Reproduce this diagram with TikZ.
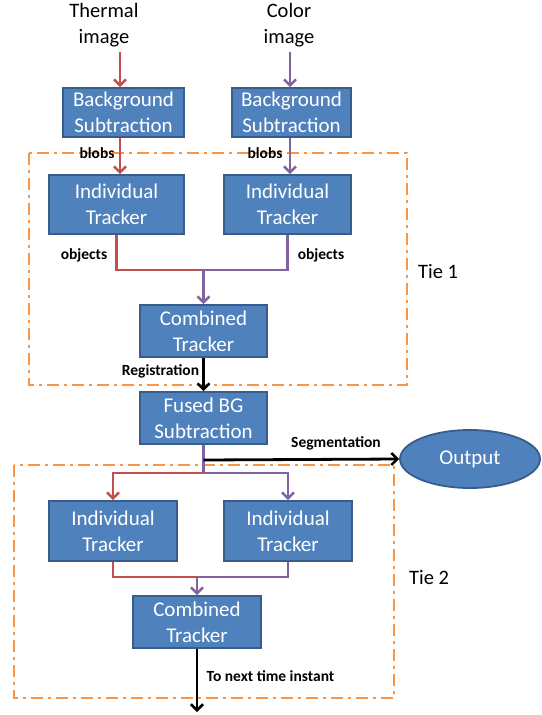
\documentclass[tikz,border=0pt]{standalone}
\usepackage{fontspec}
\setmainfont{Carlito}
\usetikzlibrary{arrows.meta,shapes.geometric,calc}
\definecolor{boxfill}{HTML}{4F81BD}
\definecolor{boxline}{HTML}{385D8A}
\definecolor{cred}{HTML}{C0504D}
\definecolor{cpurple}{HTML}{8064A2}
\definecolor{corange}{HTML}{F79646}
\tikzset{
  blk/.style={draw=boxline, line width=1.8pt, fill=boxfill, text=white, align=center,
    inner sep=0pt, font=\fontsize{21}{26}\selectfont},
  outnode/.style={ellipse, draw=boxline, line width=1.8pt, fill=boxfill, text=white,
    inner sep=0pt, minimum width=140pt, minimum height=58pt, font=\fontsize{21}{26}\selectfont},
  intext/.style={align=center, inner sep=0pt, font=\fontsize{20.5}{26}\selectfont},
  lbl/.style={inner sep=0pt, font=\bfseries\fontsize{15.5}{18}\selectfont},
  tielbl/.style={inner sep=0pt, font=\fontsize{20.5}{24}\selectfont},
  tip/.style={-{Straight Barb[length=6pt,width=12pt,line width=2.5pt]}},
  rline/.style={draw=cred, line width=2.5pt},
  pline/.style={draw=cpurple, line width=2.5pt},
  kline/.style={draw=black, line width=2.8pt},
  tiebox/.style={draw=corange, line width=2.5pt, dash pattern=on 12pt off 5pt on 3pt off 5pt},
}
\begin{document}
\begin{tikzpicture}[x=1pt,y=-1pt]
\useasboundingbox (0,0) rectangle (541,715);
% tie boxes
\draw[tiebox] (29,153) rectangle (407,385);
\draw[tiebox] (14,465) rectangle (394,698);
% inputs
\node[intext] (thermal) at (104,25) {Thermal\\image};
\node[intext] (color) at (289,25) {Color\\image};
% boxes
\node[blk, minimum width=121pt, minimum height=49pt] (bgL) at (123.5,112.5) {Background\\Subtraction};
\node[blk, minimum width=119pt, minimum height=49pt] (bgR) at (291.5,112.5) {Background\\Subtraction};
\node[blk, minimum width=135pt, minimum height=59pt] (itL) at (116.5,204.5) {Individual\\Tracker};
\node[blk, minimum width=127pt, minimum height=59pt] (itR) at (287.5,204.5) {Individual\\Tracker};
\node[blk, minimum width=127pt, minimum height=52pt] (ct1) at (203.5,331) {Combined\\Tracker};
\node[blk, minimum width=127pt, minimum height=52pt] (fused) at (203.5,418) {Fused BG\\Subtraction};
\node[outnode] (out) at (470,459) {Output};
\node[blk, minimum width=128pt, minimum height=60pt] (it2L) at (113,531) {Individual\\Tracker};
\node[blk, minimum width=128pt, minimum height=60pt] (it2R) at (288,531) {Individual\\Tracker};
\node[blk, minimum width=128pt, minimum height=52pt] (ct2) at (197,622) {Combined\\Tracker};
% junction coordinates
\coordinate (thA) at (120,52);
\coordinate (coA) at (290,52);
\coordinate (j1) at (203.5,270);
\coordinate (j2) at (203.5,460);
\coordinate (j3) at (203.5,473);
\coordinate (j4) at (197,577);
\coordinate (endpt) at (197,712);
% connectors top
\draw[rline, tip] (thA) -- (thA |- bgL.north);
\draw[pline, tip] (coA) -- (coA |- bgR.north);
\draw[rline, tip] (bgL.south -| thA) -- (thA |- itL.north);
\draw[pline, tip] (bgR.south -| coA) -- (coA |- itR.north);
\draw[rline] (itL.south) -- (itL.south |- j1) -- (j1);
\draw[pline] (itR.south) -- (itR.south |- j1) -- (j1);
\draw[pline, tip] (j1) -- (ct1.north);
\draw[kline, tip] (ct1.south) -- (fused.north);
\draw[pline] (fused.south) -- (j3);
\draw[kline, tip] (j2) -- (out.west);
\draw[rline, tip] (j3) -- (j3 -| it2L.north) -- (it2L.north);
\draw[pline, tip] (j3) -- (j3 -| it2R.north) -- (it2R.north);
\draw[rline] (it2L.south) -- (it2L.south |- j4) -- (j4);
\draw[pline] (it2R.south) -- (it2R.south |- j4) -- (j4);
\draw[pline, tip] (j4) -- (ct2.north);
\draw[kline, tip] (ct2.south) -- (endpt);
% labels
\node[lbl] (blobsL) at (97,153) {blobs};
\node[lbl] (blobsR) at (265,153) {blobs};
\node[lbl] (objL) at (84,255) {objects};
\node[lbl] (objR) at (321,255) {objects};
\node[tielbl, anchor=west] (tie1) at (418,272) {Tie 1};
\node[lbl] (reg) at (160.5,371) {Registration};
\node[lbl] (seg) at (336,443) {Segmentation};
\node[tielbl, anchor=west] (tie2) at (409,578) {Tie 2};
\node[lbl] (next) at (270.5,676) {To next time instant};
\end{tikzpicture}
\end{document}
